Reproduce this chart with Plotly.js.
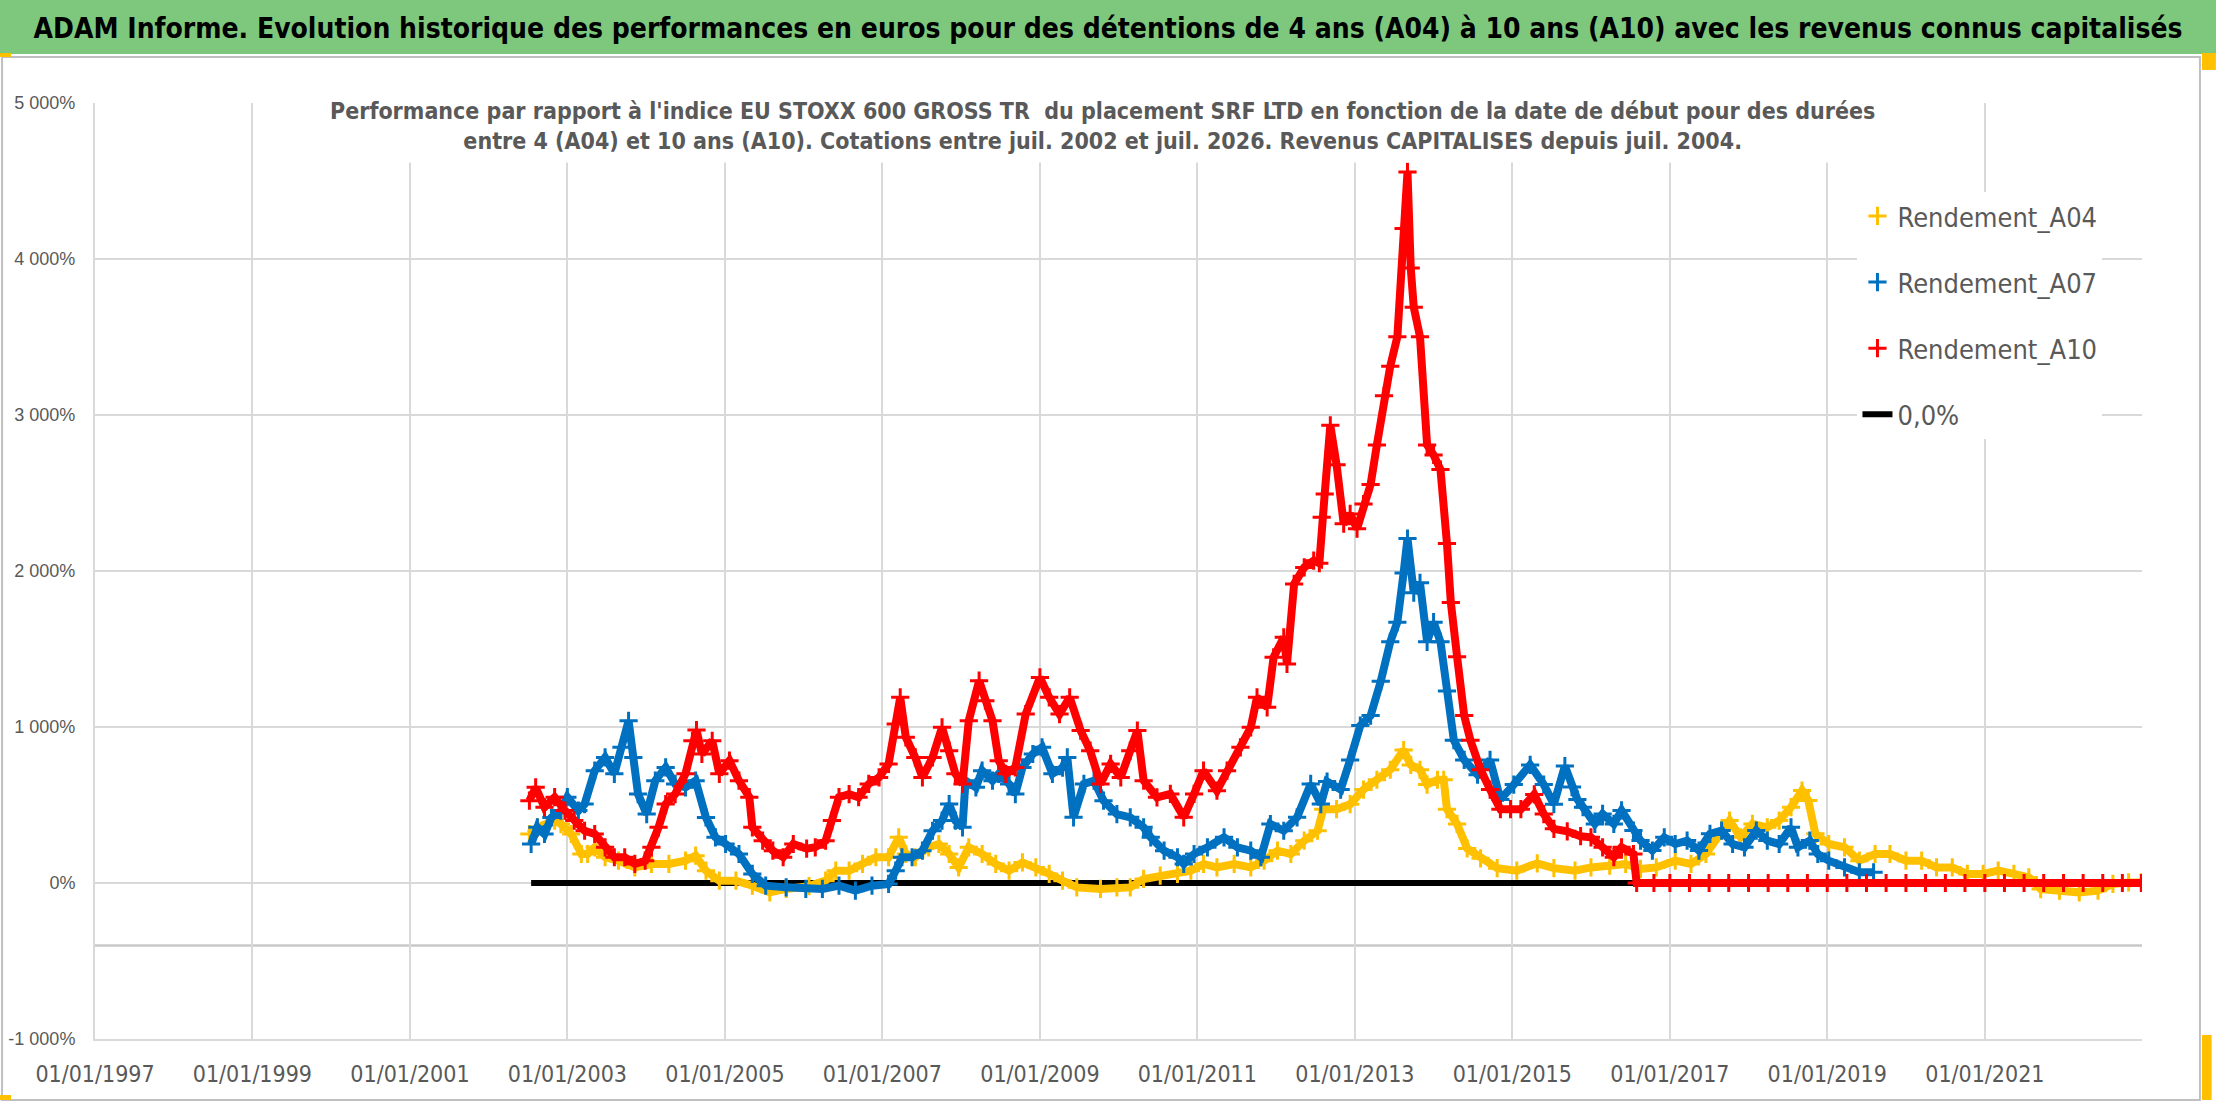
<!DOCTYPE html>
<html>
<head>
<meta charset="utf-8">
<script src="https://cdn.plot.ly/plotly-3.0.1.min.js"></script>
<style>
  html, body { margin: 0; padding: 0; background: #fff; }
  #chart { width: 2216px; height: 1102px; }
</style>
</head>
<body>
<div id="chart"></div>
<script>
// Values (x = decimal year, y = percent)
const a04Years = [2002.52, 2002.62, 2002.84, 2002.92, 2003.05, 2003.18, 2003.26, 2003.35, 2003.48, 2003.65,
  2003.86, 2004.07, 2004.29, 2004.50, 2004.63, 2004.76, 2004.93, 2005.14, 2005.35, 2005.57,
  2005.78, 2006.07, 2006.28, 2006.41, 2006.58, 2006.75, 2006.92, 2007.08, 2007.21, 2007.30,
  2007.42, 2007.59, 2007.72, 2007.85, 2007.97, 2008.10, 2008.27, 2008.44, 2008.61, 2008.78,
  2008.95, 2009.12, 2009.29, 2009.47, 2009.77, 2009.98, 2010.15, 2010.32, 2010.53, 2010.75,
  2010.92, 2011.08, 2011.25, 2011.47, 2011.68, 2011.85, 2012.02, 2012.19, 2012.36, 2012.53,
  2012.60, 2012.77, 2012.94, 2013.11, 2013.28, 2013.45, 2013.62, 2013.71, 2013.83, 2013.92,
  2014.05, 2014.13, 2014.17, 2014.30, 2014.43, 2014.60, 2014.81, 2015.06, 2015.32, 2015.53,
  2015.80, 2016.00, 2016.24, 2016.44, 2016.63, 2016.83, 2017.07, 2017.27, 2017.46, 2017.66,
  2017.76, 2017.90, 2018.05, 2018.24, 2018.39, 2018.54, 2018.68, 2018.76, 2018.85, 2019.02,
  2019.22, 2019.41, 2019.61, 2019.80, 2020.00, 2020.20, 2020.39, 2020.59, 2020.78, 2020.98,
  2021.17, 2021.37, 2021.56, 2021.71, 2021.95, 2022.20, 2022.44, 2022.63, 2022.83, 2022.99];
const a04Values = [314, 357, 400, 378, 314, 186, 186, 229, 165, 143,
  100, 122, 122, 143, 175, 79, 15, 15, -17, -60,
  -38, -20, 15, 79, 79, 122, 165, 165, 293, 186,
  165, 229, 250, 186, 100, 229, 186, 122, 79, 132,
  100, 58, 15, -28, -38, -28, -28, 26, 47, 58,
  79, 122, 100, 122, 100, 143, 207, 186, 271, 335,
  473, 473, 505, 599, 662, 726, 852, 757, 726, 631,
  662, 662, 473, 379, 221, 158, 95, 79, 126, 95,
  79, 100, 111, 122, 90, 100, 143, 122, 186, 336,
  400, 293, 379, 357, 400, 486, 593, 529, 315, 250,
  229, 143, 186, 186, 143, 143, 100, 100, 58, 58,
  79, 58, 36, -39, -49, -60, -49, -6, 4, 4];

const a07Years = [2002.54, 2002.62, 2002.71, 2002.80, 2002.92, 2003.00, 2003.14, 2003.22, 2003.35, 2003.48,
  2003.60, 2003.69, 2003.78, 2003.84, 2003.90, 2004.01, 2004.12, 2004.25, 2004.37, 2004.50,
  2004.63, 2004.76, 2004.88, 2005.01, 2005.18, 2005.35, 2005.52, 2005.78, 2006.03, 2006.24,
  2006.45, 2006.66, 2006.87, 2007.08, 2007.17, 2007.25, 2007.38, 2007.51, 2007.64, 2007.76,
  2007.85, 2007.93, 2008.02, 2008.06, 2008.19, 2008.27, 2008.40, 2008.48, 2008.61, 2008.69,
  2008.78, 2008.91, 2009.03, 2009.16, 2009.29, 2009.35, 2009.43, 2009.56, 2009.69, 2009.81,
  2009.98, 2010.15, 2010.32, 2010.41, 2010.58, 2010.75, 2010.83, 2010.96, 2011.13, 2011.34,
  2011.51, 2011.68, 2011.81, 2011.93, 2012.10, 2012.27, 2012.44, 2012.57, 2012.65, 2012.82,
  2012.94, 2013.07, 2013.20, 2013.33, 2013.45, 2013.54, 2013.62, 2013.67, 2013.75, 2013.83,
  2013.92, 2014.00, 2014.09, 2014.17, 2014.26, 2014.39, 2014.56, 2014.72, 2014.85, 2015.02,
  2015.23, 2015.40, 2015.53, 2015.67, 2015.76, 2015.83, 2015.90, 2016.05, 2016.15, 2016.29,
  2016.39, 2016.54, 2016.63, 2016.78, 2016.93, 2017.07, 2017.22, 2017.37, 2017.51, 2017.66,
  2017.80, 2017.95, 2018.10, 2018.24, 2018.39, 2018.54, 2018.63, 2018.78, 2018.88, 2019.02,
  2019.22, 2019.41, 2019.59];
const a07Values = [250, 357, 314, 420, 464, 550, 464, 506, 720, 805,
  700, 870, 1040, 805, 570, 442, 656, 741, 635, 613,
  656, 420, 293, 250, 186, 58, -17, -28, -38, -38,
  -17, -49, -17, -6, 79, 165, 165, 207, 335, 400,
  506, 400, 357, 656, 613, 720, 656, 700, 635, 570,
  741, 827, 870, 700, 740, 805, 421, 635, 656, 528,
  442, 421, 357, 293, 207, 165, 122, 186, 229, 293,
  229, 207, 165, 378, 335, 421, 635, 506, 650, 599,
  789, 1009, 1073, 1293, 1546, 1672, 1987, 2208, 1861, 1924,
  1546, 1672, 1546, 1230, 915, 789, 694, 789, 536, 631,
  757, 631, 505, 750, 615, 536, 486, 379, 443, 379,
  465, 336, 272, 208, 293, 250, 272, 208, 315, 336,
  250, 229, 336, 272, 250, 357, 229, 272, 186, 143,
  100, 69, 69];

const a10Years = [2002.52, 2002.60, 2002.71, 2002.84, 2002.97, 2003.09, 2003.22, 2003.35, 2003.48, 2003.60,
  2003.73, 2003.86, 2003.99, 2004.07, 2004.16, 2004.25, 2004.37, 2004.50, 2004.59, 2004.64,
  2004.71, 2004.84, 2004.93, 2005.06, 2005.18, 2005.31, 2005.35, 2005.48, 2005.61, 2005.74,
  2005.87, 2006.04, 2006.15, 2006.28, 2006.36, 2006.45, 2006.58, 2006.70, 2006.83, 2006.96,
  2007.08, 2007.17, 2007.23, 2007.30, 2007.42, 2007.51, 2007.64, 2007.76, 2007.85, 2007.93,
  2008.02, 2008.10, 2008.23, 2008.31, 2008.40, 2008.48, 2008.57, 2008.69, 2008.82, 2009.00,
  2009.12, 2009.25, 2009.38, 2009.52, 2009.64, 2009.77, 2009.90, 2010.03, 2010.15, 2010.24,
  2010.32, 2010.49, 2010.66, 2010.83, 2010.96, 2011.08, 2011.25, 2011.38, 2011.55, 2011.68,
  2011.76, 2011.89, 2011.97, 2012.10, 2012.14, 2012.23, 2012.36, 2012.48, 2012.55, 2012.58,
  2012.62, 2012.69, 2012.77, 2012.86, 2012.94, 2013.03, 2013.11, 2013.20, 2013.28, 2013.37,
  2013.45, 2013.54, 2013.62, 2013.67, 2013.71, 2013.75, 2013.83, 2013.92, 2014.00, 2014.09,
  2014.17, 2014.22, 2014.30, 2014.39, 2014.47, 2014.60, 2014.72, 2014.85, 2014.98, 2015.11,
  2015.28, 2015.40, 2015.53, 2015.70, 2015.87, 2016.00, 2016.15, 2016.29, 2016.39, 2016.54,
  2016.58, 2016.80, 2017.00, 2017.25, 2017.50, 2017.75, 2018.00, 2018.25, 2018.50, 2018.75,
  2019.00, 2019.25, 2019.50, 2019.75, 2020.00, 2020.25, 2020.50, 2020.75, 2021.00, 2021.25,
  2021.50, 2021.75, 2022.00, 2022.25, 2022.50, 2022.75, 2022.99];
const a10Values = [528, 613, 485, 550, 464, 400, 335, 314, 229, 165,
  165, 122, 143, 229, 357, 506, 570, 700, 912, 980,
  827, 912, 700, 784, 656, 550, 357, 271, 207, 165,
  250, 220, 229, 271, 400, 550, 570, 550, 635, 677,
  763, 1019, 1190, 934, 805, 677, 805, 998, 848, 700,
  635, 1040, 1297, 1169, 1040, 784, 700, 741, 1083, 1318,
  1190, 1083, 1190, 977, 848, 635, 763, 677, 848, 977,
  656, 549, 571, 421, 571, 720, 592, 720, 870, 998,
  1190, 1126, 1447, 1575, 1404, 1917, 2023, 2066, 2050, 2344,
  2494, 2934, 2681, 2303, 2366, 2271, 2429, 2555, 2808, 3123,
  3312, 3502, 4196, 4558, 3943, 3691, 3502, 2808, 2744, 2650,
  2177, 1798, 1451, 1073, 915, 726, 599, 473, 473, 473,
  568, 442, 347, 331, 300, 293, 229, 165, 229, 186,
  0, 0, 0, 0, 0, 0, 0, 0, 0, 0,
  0, 0, 0, 0, 0, 0, 0, 0, 0, 0,
  0, 0, 0, 0, 0, 0, 0];

const zeroYears = [2002.54, 2022.99];
const zeroValues = [0, 0];

const yTickVals = [-1000, 0, 1000, 2000, 3000, 4000, 5000];
const yTickText = ['-1 000%', '0%', '1 000%', '2 000%', '3 000%', '4 000%', '5 000%'];
const crossLineValue = -400;

const bannerText = 'ADAM Informe. Evolution historique des performances en euros pour des détentions de 4 ans (A04) à 10 ans (A10) avec les revenus connus capitalisés';
const subtitleText = "Performance par rapport à l'indice EU STOXX 600 GROSS TR  du placement SRF LTD en fonction de la date de début pour des durées<br>entre 4 (A04) et 10 ans (A10). Cotations entre juil. 2002 et juil. 2026. Revenus CAPITALISES depuis juil. 2004.";

const NARROW = '"Liberation Sans Narrow", "DejaVu Sans Condensed", "Arial Narrow", sans-serif';
const GREY_TEXT = '#595959';
const GRID = '#D9D9D9';
const HANDLE = '#FFC000';

// decimal year -> ISO date string for the date axis
function yearToDate(y) {
    const yr = Math.floor(y);
    const start = Date.UTC(yr, 0, 1);
    const end = Date.UTC(yr + 1, 0, 1);
    return new Date(start + (y - yr) * (end - start)).toISOString().slice(0, 10);
}

function seriesTraces(name, years, values, color, rank) {
    const x = years.map(yearToDate);
    // band joining the points, hidden from the legend
    const band = {
        x: x, y: values, type: 'scatter', mode: 'lines',
        line: { color: color, width: 8 },
        legendgroup: name, showlegend: false, hoverinfo: 'skip'
    };
    const marks = {
        x: x, y: values, type: 'scatter', mode: 'markers', name: name,
        legendgroup: name, legendrank: rank,
        marker: { symbol: 'cross-thin', size: 13, color: color, line: { color: color, width: 3 } }
    };
    return [band, marks];
}

const traces = [
    {
        x: zeroYears.map(yearToDate), y: zeroValues, type: 'scatter', mode: 'lines',
        name: '0,0%', legendgroup: 'zero', legendrank: 4,
        line: { color: '#000000', width: 6 }
    },
    ...seriesTraces('Rendement_A04', a04Years, a04Values, '#FFC000', 1),
    ...seriesTraces('Rendement_A07', a07Years, a07Values, '#0070C0', 2),
    ...seriesTraces('Rendement_A10', a10Years, a10Values, '#FF0000', 3)
];

function handle(x0, x1, y0, y1) {
    return { type: 'rect', xref: 'paper', yref: 'paper', x0: x0, x1: x1, y0: y0, y1: y1,
             fillcolor: HANDLE, line: { width: 0 }, layer: 'above' };
}

const layout = {
    width: 2216,
    height: 1102,
    margin: { l: 95, r: 74, t: 103, b: 63 },
    paper_bgcolor: '#ffffff',
    plot_bgcolor: '#ffffff',
    title: {
        text: '<b>' + bannerText + '</b>',
        font: { family: NARROW, size: 28, color: '#000000' },
        x: 0.5, xref: 'container', xanchor: 'center',
        y: 0.974, yref: 'container', yanchor: 'middle'
    },
    xaxis: {
        type: 'date',
        range: ['1997-01-01', '2022-12-31'],
        tick0: '1997-01-01',
        dtick: 'M24',
        tickformat: '%d/%m/%Y',
        ticks: '',
        ticklabelstandoff: 13,
        tickfont: { family: NARROW, size: 23, color: GREY_TEXT },
        showgrid: true, gridcolor: GRID, gridwidth: 2,
        showline: true, linecolor: GRID, linewidth: 2,
        zeroline: false
    },
    yaxis: {
        range: [-1000, 5000],
        tickvals: yTickVals,
        ticktext: yTickText,
        ticks: '',
        ticklabelstandoff: 14,
        tickfont: { family: '"Liberation Sans", Arial, sans-serif', size: 18, color: GREY_TEXT },
        showgrid: true, gridcolor: GRID, gridwidth: 2,
        showline: true, linecolor: GRID, linewidth: 2,
        zeroline: false
    },
    legend: {
        x: 0.861, xanchor: 'left',
        y: 0.905, yanchor: 'top',
        bgcolor: '#ffffff',
        font: { family: NARROW, size: 27, color: GREY_TEXT },
        tracegroupgap: 28,
        traceorder: 'grouped'
    },
    annotations: [{
        text: '<b>' + subtitleText + '</b>',
        xref: 'paper', yref: 'paper',
        x: 0.492, y: 0.975, xanchor: 'center', yanchor: 'middle',
        showarrow: false, align: 'center',
        bgcolor: '#ffffff', borderpad: 8,
        font: { family: NARROW, size: 23, color: GREY_TEXT }
    }],
    shapes: [
        // green banner behind the main title
        { type: 'rect', xref: 'paper', yref: 'paper', x0: -0.05, x1: 1.05, y0: 1.0524, y1: 1.12,
          fillcolor: '#7EC87E', line: { width: 0 }, layer: 'below' },
        // chart frame
        { type: 'rect', xref: 'paper', yref: 'paper', x0: -0.0454, x1: 1.0283, y0: -0.0652, y1: 1.0491,
          line: { color: '#BFBFBF', width: 2 }, layer: 'below' },
        // horizontal axis line crossing the plot
        { type: 'line', xref: 'paper', yref: 'y', x0: 0, x1: 1, y0: crossLineValue, y1: crossLineValue,
          line: { color: '#C8C8C8', width: 2.5 }, layer: 'below' },
        // selection handles of the chart object
        handle(-0.0464, -0.041, 1.0491, 1.0534),
        handle(1.0293, 1.0361, 1.0353, 1.0534),
        handle(1.0293, 1.0340, -0.0652, 0.0043),
        handle(-0.0464, -0.041, -0.0652, -0.0598)
    ],
    showlegend: true
};

Plotly.newPlot('chart', traces, layout, { displayModeBar: false, staticPlot: true });
</script>
</body>
</html>
